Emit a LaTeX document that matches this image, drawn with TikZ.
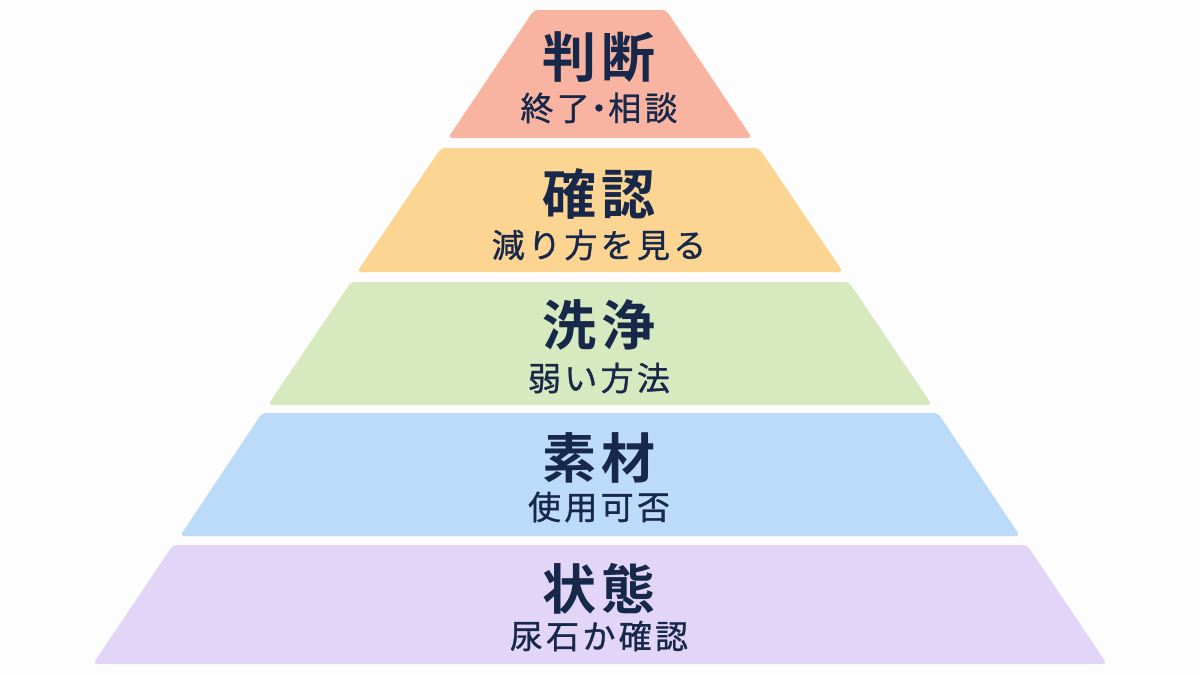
\documentclass[tikz,border=0pt]{standalone}
\usepackage{fontspec}
\setmainfont{Noto Sans CJK JP}
\newfontfamily\headfont{Noto Sans CJK JP}[BoldFont={Noto Sans CJK JP Bold},LetterSpace=8]
\newfontfamily\notefont{Noto Sans CJK JP}[LetterSpace=10,FakeBold=1]
\usepackage{xcolor}
\definecolor{ink}{HTML}{17284A}
\definecolor{bgpaper}{HTML}{FDFDFD}
\definecolor{layerA}{HTML}{F8B4A0}
\definecolor{layerB}{HTML}{FBD591}
\definecolor{layerC}{HTML}{D6E9BF}
\definecolor{layerD}{HTML}{BBDBF8}
\definecolor{layerE}{HTML}{E2D5F8}
\tikzset{layer/.style={rounded corners=4pt},
  head/.style={text=ink,inner sep=0pt,font=\headfont\bfseries\fontsize{54}{54}\selectfont},
  note/.style={text=ink,inner sep=0pt,font=\notefont\fontsize{33}{33}\selectfont}}

\begin{document}
\begin{tikzpicture}[x=1pt,y=-1pt]
\fill[bgpaper] (0,0) rectangle (1200,675);
\useasboundingbox (0,0) rectangle (1200,675);
%
\fill[layer,layerA] (534,10) -- (666,10) -- (752,138) -- (448,138) -- cycle;
\node (l1) [head] at (599,57) {判断};
\node (l1n) [note] at (599,108) {終了\kern-0.22em・\kern-0.22em相談};
%
\fill[layer,layerB] (441,148) -- (759,148) -- (843,272) -- (357,272) -- cycle;
\node (l2) [head] at (599,194) {確認};
\node (l2n) [note] at (599,245) {減り方を見る};
%
\fill[layer,layerC] (351,282) -- (849,282) -- (932,405) -- (268,405) -- cycle;
\node (l3) [head] at (599,325) {洗浄};
\node (l3n) [note] at (599,378) {弱い方法};
%
\fill[layer,layerD] (262,413) -- (938,413) -- (1020,536) -- (180,536) -- cycle;
\node (l4) [head] at (599,458) {素材};
\node (l4n) [note] at (599,507) {使用可否};
%
\fill[layer,layerE] (173,545) -- (1027,545) -- (1107,664) -- (93,664) -- cycle;
\node (l5) [head] at (599,589) {状態};
\node (l5n) [note] at (599,636) {尿石か確認};
\end{tikzpicture}
\end{document}
